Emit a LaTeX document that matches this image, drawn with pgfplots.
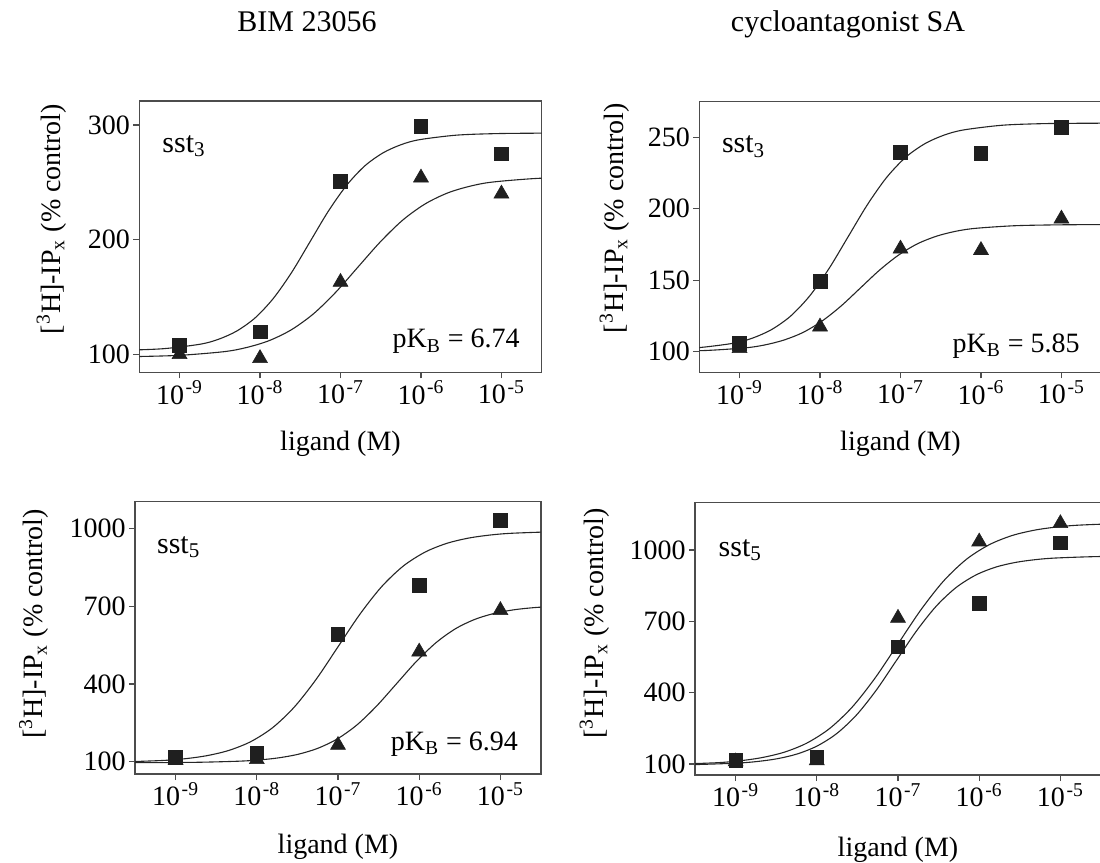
\documentclass[border=0pt]{standalone}
\usepackage{pgfplots}
\pgfplotsset{compat=1.18}
\usepackage{fontspec}
\setmainfont{Liberation Serif}

\newcommand{\fs}[1]{\fontsize{#1}{#1}\selectfont}

\pgfplotsset{
  panel/.style={
    scale only axis,
    anchor=north west,
    xmin=-9.5, xmax=-4.5,
    xtick={-9,-8,-7,-6,-5},
    xticklabels={10\textsuperscript{\kern0.8pt-9},10\textsuperscript{\kern0.8pt-8},10\textsuperscript{\kern0.8pt-7},10\textsuperscript{\kern0.8pt-6},10\textsuperscript{\kern0.8pt-5}},
    tick align=outside,
    major tick length=3pt,
    xtick pos=bottom, ytick pos=left,
    axis line style={black!70, line width=0.7pt},
    tick style={black!70, line width=0.6pt},
    ticklabel style={font=\fs{14}},
    xticklabel style={inner sep=1pt},
    yticklabel style={inner sep=1.5pt},
    label style={font=\fs{14}},
    xlabel={ligand (M)},
    ylabel={[\textsuperscript{3}H]-IP\textsubscript{x} (\% control)},
  },
  curve/.style={black!85, line width=0.55pt, smooth, no marks},
  sq/.style={only marks, mark=square*, mark size=3.4pt, mark options={fill=black!88, draw=black!88, line width=0.3pt}},
  tri/.style={only marks, mark=triangle*, mark size=4.3pt, mark options={fill=black!88, draw=black!88, line width=0.3pt}},
}

\begin{document}
\begin{tikzpicture}

\node[anchor=base, font=\fs{15}] at (153.5pt,-15.5pt) {BIM 23056};
\node[anchor=base, font=\fs{15}] at (424pt,-15.85pt) {cycloantagonist SA};

% ---------------- Panel 1: BIM 23056, sst3
\begin{axis}[panel,
  at={(69.65pt,-50.5pt)}, width=201.2pt, height=135.65pt,
  ymin=84.3, ymax=320.9,
  ytick={100,200,300}, yticklabels={100,200,300},
  xlabel style={at={(axis description cs:0.5,0)}, anchor=base, yshift=-38.85pt},
  ylabel style={at={(axis description cs:-0.2187,0.565)}, anchor=center},
]
\addplot[curve] coordinates {(-9.653,103.6) (-9.198,104.9) (-8.744,108.8) (-8.516,113.1) (-8.289,120.3) (-8.062,131.7) (-7.835,148.7) (-7.607,171.4) (-7.38,198) (-7.153,224.6) (-6.925,247.3) (-6.698,264.3) (-6.471,275.7) (-6.244,282.9) (-6.016,287.2) (-5.562,291.1) (-5.107,292.4) (-4.653,292.8) (-4.198,292.9)};
\addplot[curve] coordinates {(-9.558,98.0) (-9.002,99.1) (-8.447,102.3) (-8.169,105.9) (-7.891,111.8) (-7.613,121.3) (-7.336,135.3) (-7.058,154.2) (-6.78,176.3) (-6.502,198.3) (-6.224,217.2) (-5.947,231.2) (-5.669,240.7) (-5.391,246.6) (-5.113,250.2) (-4.558,253.4) (-4.002,254.5)};
\addplot[tri] coordinates {(-9,100) (-8,96.5) (-7,163) (-6,254) (-5,240)};
\addplot[sq] coordinates {(-9,108) (-8,119.5) (-7,251) (-6,299) (-5,274.7)};
\node[anchor=base west, font=\fs{15}] at (axis description cs:0.04,0.812) {sst\textsubscript{3}};
\node[anchor=base east, font=\fs{14}] at (axis description cs:0.9627,0.0896) {pK\textsubscript{B} = 6.74};
\end{axis}

% ---------------- Panel 2: cycloantagonist SA, sst3
\begin{axis}[panel,
  at={(349.65pt,-50.85pt)}, width=201.2pt, height=135.3pt,
  ymin=85.6, ymax=274.9,
  ytick={100,150,200,250}, yticklabels={100,150,200,250},
  xlabel style={at={(axis description cs:0.5,0)}, anchor=base, yshift=-38.85pt},
  ylabel style={at={(axis description cs:-0.211,0.570)}, anchor=center},
]
\addplot[curve] coordinates {(-10.03,101.5) (-9.555,102.6) (-9.079,105.9) (-8.84,109.5) (-8.602,115.5) (-8.364,125.0) (-8.126,139.2) (-7.888,158.2) (-7.65,180.5) (-7.412,202.8) (-7.174,221.8) (-6.936,236.0) (-6.698,245.5) (-6.46,251.5) (-6.221,255.1) (-5.745,258.4) (-5.269,259.5) (-4.793,259.8) (-3.84,260.0)};
\addplot[curve] coordinates {(-9.881,100.3) (-9.405,100.9) (-8.929,102.7) (-8.69,104.7) (-8.452,108.1) (-8.214,113.4) (-7.976,121.4) (-7.738,132.0) (-7.5,144.5) (-7.262,157.0) (-7.024,167.6) (-6.786,175.6) (-6.548,180.9) (-6.31,184.3) (-6.071,186.3) (-5.595,188.1) (-5.119,188.7) (-4.643,188.9) (-3.69,189.0)};
\addplot[tri] coordinates {(-9,102.4) (-8,117.5) (-7,172) (-6,171) (-5,193)};
\addplot[sq] coordinates {(-9,105.9) (-8,149.3) (-7,239.7) (-6,239) (-5,257)};
\node[anchor=base west, font=\fs{15}] at (axis description cs:0.039,0.8115) {sst\textsubscript{3}};
\node[anchor=base east, font=\fs{14}] at (axis description cs:0.963,0.075) {pK\textsubscript{B} = 5.85};
\end{axis}

% ---------------- Panel 3: BIM 23056, sst5
\begin{axis}[panel,
  at={(67.5pt,-250.85pt)}, width=203pt, height=136.15pt,
  ymin=52.6, ymax=1102.6,
  ytick={100,400,700,1000}, yticklabels={100,400,700,1000},
  xlabel style={at={(axis description cs:0.5,0)}, anchor=base, yshift=-39.65pt},
  ylabel style={at={(axis description cs:-0.249,0.551)}, anchor=center},
]
\addplot[curve] coordinates {(-9.688,98.8) (-9.151,104.9) (-8.881,111.6) (-8.613,123.4) (-8.344,143.6) (-8.075,177.3) (-7.806,231) (-7.538,310.8) (-7.269,417.7) (-7.0,543) (-6.731,668.3) (-6.462,775.2) (-6.194,855) (-5.925,908.7) (-5.656,942.4) (-5.387,962.6) (-5.118,974.4) (-4.849,981.1) (-4.312,987.2)};
\addplot[curve] coordinates {(-9.678,96.2) (-9.193,96.6) (-8.707,97.9) (-8.222,102.0) (-7.979,106.6) (-7.736,114.7) (-7.494,128.4) (-7.251,151.4) (-7.008,188.0) (-6.765,242.3) (-6.523,315.2) (-6.28,400.5) (-6.037,485.8) (-5.794,558.7) (-5.552,613.0) (-5.309,649.6) (-5.066,672.6) (-4.823,686.3) (-4.581,694.3) (-4.338,699.0)};
\addplot[tri] coordinates {(-9,106.6) (-8,109) (-7,164) (-6,524) (-5,684)};
\addplot[sq] coordinates {(-9,118) (-8,135) (-7,592) (-6,781) (-5,1032)};
\node[anchor=base west, font=\fs{15}] at (axis description cs:0.037,0.8105) {sst\textsubscript{5}};
\node[anchor=base east, font=\fs{14}] at (axis description cs:0.9606,0.088) {pK\textsubscript{B} = 6.94};
\end{axis}

% ---------------- Panel 4: cycloantagonist SA, sst5
\begin{axis}[panel,
  at={(347.5pt,-251.15pt)}, width=203pt, height=136.35pt,
  ymin=53.7, ymax=1200.6,
  ytick={100,400,700,1000}, yticklabels={100,400,700,1000},
  xlabel style={at={(axis description cs:0.5,0)}, anchor=base, yshift=-40.85pt},
  ylabel style={at={(axis description cs:-0.248,0.556)}, anchor=center},
]
\addplot[curve] coordinates {(-9.809,98.2) (-9.247,105.1) (-8.966,112.8) (-8.685,126.3) (-8.404,149.3) (-8.124,187.7) (-7.843,249.0) (-7.562,340.1) (-7.281,462.1) (-7.0,605) (-6.719,747.9) (-6.438,869.9) (-6.157,961.0) (-5.876,1022.3) (-5.596,1060.7) (-5.315,1083.7) (-5.034,1097.2) (-4.753,1104.9) (-4.191,1111.8) (-3.629,1114)};
\addplot[curve] coordinates {(-9.961,95.9) (-9.716,96.6) (-9.471,97.8) (-8.981,103.7) (-8.736,110.4) (-8.49,122.0) (-8.245,141.8) (-8.0,175.0) (-7.755,227.9) (-7.51,306.5) (-7.265,411.7) (-7.02,535) (-6.775,658.3) (-6.53,763.5) (-6.285,842.1) (-6.04,895.0) (-5.795,928.2) (-5.55,948.0) (-5.304,959.6) (-5.059,966.3) (-4.569,972.2) (-4.079,974.1)};
\addplot[tri] coordinates {(-9,110) (-8,115) (-7,714) (-6,1035) (-5,1112)};
\addplot[sq] coordinates {(-9,115) (-8,128) (-7,593) (-6,776) (-5,1031)};
\node[anchor=base west, font=\fs{15}] at (axis description cs:0.041,0.803) {sst\textsubscript{5}};
\end{axis}

\pgfresetboundingbox
\useasboundingbox (0,0) rectangle (550pt,-431.5pt);
\end{tikzpicture}
\end{document}
